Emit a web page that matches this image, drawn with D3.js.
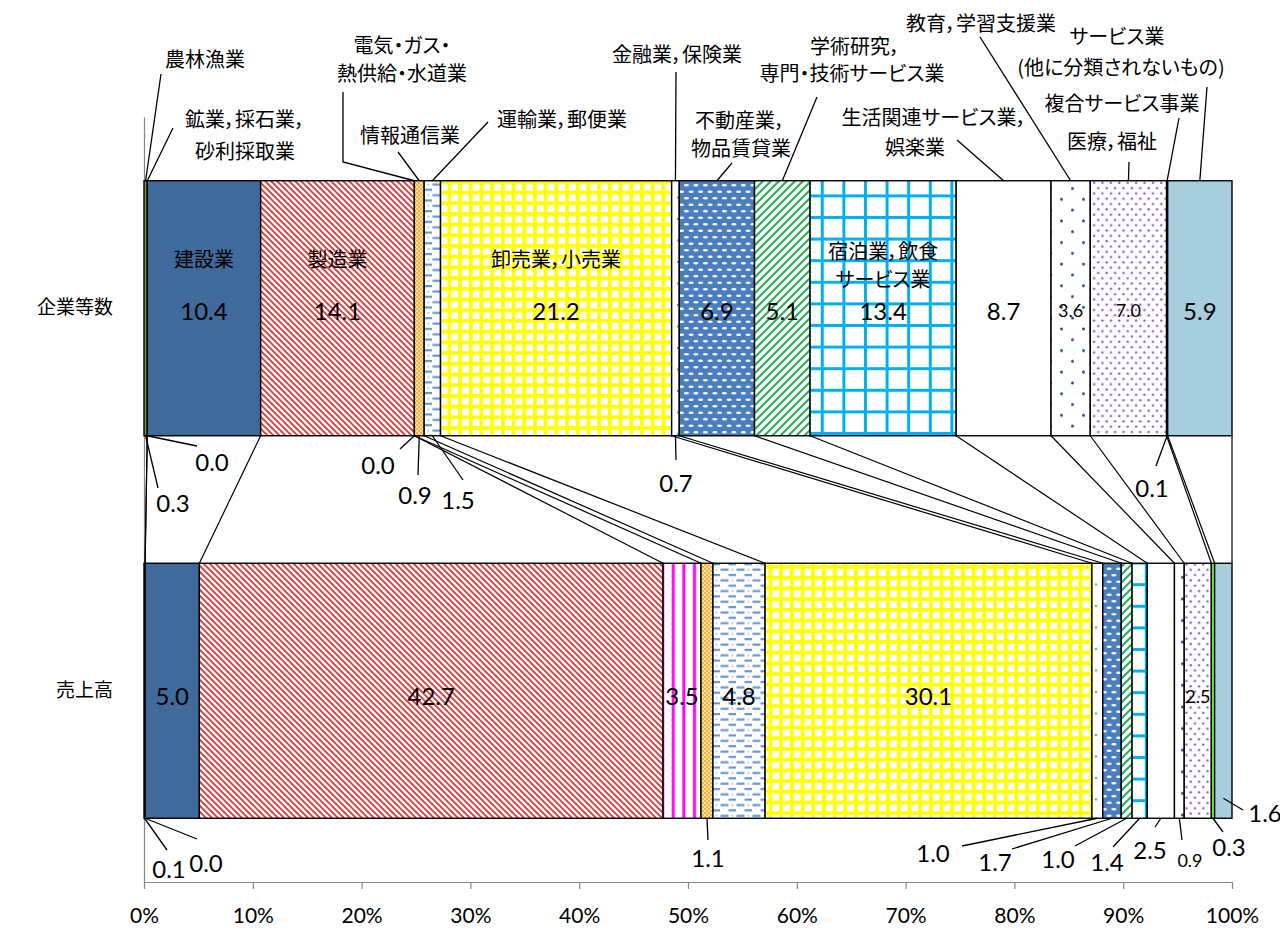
<!DOCTYPE html>
<html>
<head>
<meta charset="utf-8">
<script src="https://cdn.jsdelivr.net/npm/d3@7"></script>
<style>
  body { margin: 0; background: #fff; }
  svg { display: block; }
  .jp { font-family: "Noto Sans CJK JP", sans-serif; font-size: 20px; font-feature-settings: "palt" 1; fill: #000; }
  .num { font-family: Lato, "Noto Sans", sans-serif; font-size: 24px; fill: #000; }
  .num.small { font-size: 18px; }
</style>
</head>
<body>
<svg id="chart" width="1280" height="930"></svg>
<script>
// categories (bars) and industries (stacked segments)
var categories = ['企業等数', '売上高'];

var industryLines = [
  ['農林漁業'],
  ['鉱業，採石業，', '砂利採取業'],
  ['建設業'],
  ['製造業'],
  ['電気・ガス・', '熱供給・水道業'],
  ['情報通信業'],
  ['運輸業，郵便業'],
  ['卸売業，小売業'],
  ['金融業，保険業'],
  ['不動産業，', '物品賃貸業'],
  ['学術研究，', '専門・技術サービス業'],
  ['宿泊業，飲食', 'サービス業'],
  ['生活関連サービス業，', '娯楽業'],
  ['教育，学習支援業'],
  ['医療，福祉'],
  ['複合サービス事業'],
  ['サービス業', '(他に分類されないもの)']
];

// shares in %
var firmShares = [0.3, 0.0, 10.4, 14.1, 0.0, 0.9, 1.5, 21.2, 0.7, 6.9, 5.1, 13.4, 8.7, 3.6, 7.0, 0.1, 5.9];
var salesShares = [0.1, 0.0, 5.0, 42.7, 3.5, 1.1, 4.8, 30.1, 1.0, 1.7, 1.0, 1.4, 2.5, 0.9, 2.5, 0.3, 1.6];

var tickValues = [0, 0.1, 0.2, 0.3, 0.4, 0.5, 0.6, 0.7, 0.8, 0.9, 1];

var svg = d3.select('#chart');
var defs = svg.append('defs');

// helper for fill patterns
function pattern(id, w, h, draw) {
  var p = defs.append('pattern')
    .attr('id', id)
    .attr('patternUnits', 'userSpaceOnUse')
    .attr('width', w)
    .attr('height', h);
  draw(p, w, h);
}

pattern('p-mfg', 6, 6, function (p) {
  p.append('rect').attr('width', 6).attr('height', 6).attr('fill', '#fff');
  p.append('path')
    .attr('d', 'M0,0L6,6M-1.5,4.5L1.5,7.5M4.5,-1.5L7.5,1.5')
    .attr('stroke', '#DC3A3A').attr('stroke-width', 1.9);
});
pattern('p-elec', 10.6, 10, function (p) {
  p.append('rect').attr('width', 10.6).attr('height', 10).attr('fill', '#fff');
  p.append('rect').attr('x', 4).attr('width', 3).attr('height', 10).attr('fill', '#FF00FF');
});
pattern('p-info', 4, 4, function (p) {
  p.append('rect').attr('width', 4).attr('height', 4).attr('fill', '#FCE0A6');
  p.append('rect').attr('width', 2).attr('height', 2).attr('fill', '#F7B33E');
  p.append('rect').attr('x', 2).attr('y', 2).attr('width', 2).attr('height', 2).attr('fill', '#F7B33E');
});
pattern('p-trans', 16, 10.7, function (p) {
  p.append('rect').attr('width', 16).attr('height', 10.7).attr('fill', '#fff');
  p.append('rect').attr('x', 0.5).attr('y', 1.5).attr('width', 8).attr('height', 2.2).attr('fill', '#6A96CF');
  p.append('rect').attr('x', 8.5).attr('y', 6.8).attr('width', 8).attr('height', 2.2).attr('fill', '#6A96CF');
  p.append('circle').attr('cx', 12.5).attr('cy', 2.6).attr('r', 0.9).attr('fill', '#9DB9E0');
});
pattern('p-retail', 10.7, 10.7, function (p) {
  p.append('rect').attr('width', 10.7).attr('height', 10.7).attr('fill', '#FFFF00');
  p.append('rect').attr('x', 1.8).attr('y', 1.8).attr('width', 7).attr('height', 7).attr('fill', '#fff');
});
pattern('p-fin', 11, 21.5, function (p) {
  p.append('rect').attr('width', 11).attr('height', 21.5).attr('fill', '#fff');
  p.append('circle').attr('cx', 7).attr('cy', 4).attr('r', 1.1).attr('fill', '#37A84A');
});
pattern('p-estate', 9.5, 13, function (p) {
  p.append('rect').attr('width', 9.5).attr('height', 13).attr('fill', '#4A7EBF');
  p.append('ellipse').attr('cx', 2.4).attr('cy', 3.2).attr('rx', 2.5).attr('ry', 1.3).attr('fill', '#fff');
  p.append('ellipse').attr('cx', 7.15).attr('cy', 9.7).attr('rx', 2.5).attr('ry', 1.3).attr('fill', '#fff');
  p.append('ellipse').attr('cx', 11.9).attr('cy', 3.2).attr('rx', 2.5).attr('ry', 1.3).attr('fill', '#fff');
});
pattern('p-sci', 8, 8, function (p) {
  p.append('rect').attr('width', 8).attr('height', 8).attr('fill', '#fff');
  p.append('path')
    .attr('d', 'M0,8L8,0M-2,2L2,-2M6,10L10,6')
    .attr('stroke', '#2EAE5C').attr('stroke-width', 2.2);
});
pattern('p-hotel', 21.6, 21.6, function (p) {
  p.append('rect').attr('width', 21.6).attr('height', 21.6).attr('fill', '#fff');
  p.append('rect').attr('x', 0).attr('width', 3).attr('height', 21.6).attr('fill', '#00B0F0');
  p.append('rect').attr('y', 0).attr('width', 21.6).attr('height', 3).attr('fill', '#00B0F0');
});
pattern('p-edu', 22, 21.6, function (p) {
  p.append('rect').attr('width', 22).attr('height', 21.6).attr('fill', '#fff');
  p.append('circle').attr('cx', 5.5).attr('cy', 5).attr('r', 1.5).attr('fill', '#2A4A84');
  p.append('circle').attr('cx', 16.5).attr('cy', 15.8).attr('r', 1.5).attr('fill', '#2A4A84');
});
pattern('p-med', 8.4, 10.6, function (p) {
  p.append('rect').attr('width', 8.4).attr('height', 10.6).attr('fill', '#fff');
  p.append('circle').attr('cx', 2.1).attr('cy', 2.6).attr('r', 1.2).attr('fill', '#9457C9');
  p.append('circle').attr('cx', 6.3).attr('cy', 7.9).attr('r', 1.2).attr('fill', '#9457C9');
});

var fills = [
  '#77933C', '#595959', '#3F6A9B', 'url(#p-mfg)', 'url(#p-elec)', 'url(#p-info)',
  'url(#p-trans)', 'url(#p-retail)', 'url(#p-fin)', 'url(#p-estate)', 'url(#p-sci)',
  'url(#p-hotel)', '#FFFFFF', 'url(#p-edu)', 'url(#p-med)', '#66FF33', '#A6CEDC'
];

// scales
var x = d3.scaleLinear().domain([0, 1]).range([144, 1232]);
var y = d3.scaleBand()
  .domain(categories)
  .range([117, 882])
  .paddingInner(1 / 3)
  .paddingOuter(1 / 6);
var bw = y.bandwidth();

// 100% stack
var shareSets = [firmShares, salesShares];
var rows = categories.map(function (c, j) {
  var r = { category: c };
  industryLines.forEach(function (n, i) { r[i] = shareSets[j][i]; });
  return r;
});
var series = d3.stack()
  .keys(d3.range(industryLines.length))
  .offset(d3.stackOffsetExpand)(rows);

var fmt = d3.format('.1f');

// axes
var xAxis = svg.append('g')
  .attr('transform', 'translate(0,' + 882 + ')')
  .call(d3.axisBottom(x).tickValues(tickValues).tickFormat(d3.format('.0%')).tickSize(7).tickSizeOuter(0));
xAxis.selectAll('path,line').attr('stroke', '#868686').attr('stroke-width', 1.2);
xAxis.selectAll('text')
  .attr('y', 34).attr('dy', '0.35em')
  .attr('fill', '#000')
  .style('font-family', 'Lato, sans-serif')
  .style('font-size', '21px');

var yAxis = svg.append('g')
  .attr('transform', 'translate(144,0)')
  .call(d3.axisLeft(y).tickSize(0).tickPadding(31));
yAxis.select('.domain').attr('stroke', '#868686').attr('stroke-width', 1.2);
yAxis.selectAll('text')
  .attr('fill', '#000')
  .style('font-family', '"Noto Sans CJK JP", sans-serif')
  .style('font-size', '19px');

// series lines between the two bars
svg.append('g')
  .selectAll('line')
  .data(series)
  .join('line')
  .attr('x1', function (s) { return x(s[0][1]); })
  .attr('y1', y(categories[0]) + bw)
  .attr('x2', function (s) { return x(s[1][1]); })
  .attr('y2', y(categories[1]))
  .attr('stroke', '#000')
  .attr('stroke-width', 1.2);

// segments
svg.append('g')
  .selectAll('g')
  .data(series)
  .join('g')
  .attr('fill', function (s, i) { return fills[i]; })
  .selectAll('rect')
  .data(function (s) { return s; })
  .join('rect')
  .attr('x', function (d) { return x(d[0]); })
  .attr('y', function (d) { return y(d.data.category); })
  .attr('width', function (d) { return Math.max(0, x(d[1]) - x(d[0])); })
  .attr('height', bw)
  .attr('stroke', '#000')
  .attr('stroke-width', 1.4);

function segMid(j, i) {
  var d = series[i][j];
  return x((d[0] + d[1]) / 2);
}
function center(j) { return y(categories[j]) + bw / 2; }

// names written inside segments (dy from bar centre)
var insideNames = [
  { j: 0, i: 2, dy: [-50] },
  { j: 0, i: 3, dy: [-50] },
  { j: 0, i: 7, dy: [-50] },
  { j: 0, i: 11, dy: [-58, -30] }
];
insideNames.forEach(function (c) {
  industryLines[c.i].forEach(function (t, k) {
    svg.append('text').attr('class', 'jp')
      .attr('x', segMid(c.j, c.i))
      .attr('y', center(c.j) + c.dy[k])
      .attr('text-anchor', 'middle')
      .attr('dominant-baseline', 'central')
      .text(t);
  });
});

// values written inside segments
var insideValues = [
  { j: 0, idx: [2, 3, 7, 9, 10, 11, 12, 13, 14, 16], small: [13, 14], dy: 2 },
  { j: 1, idx: [2, 3, 4, 6, 7, 14], small: [14], dy: 5 }
];
insideValues.forEach(function (g) {
  g.idx.forEach(function (i) {
    svg.append('text')
      .attr('class', g.small.indexOf(i) >= 0 ? 'num small' : 'num')
      .attr('x', segMid(g.j, i))
      .attr('y', center(g.j) + g.dy)
      .attr('text-anchor', 'middle')
      .attr('dominant-baseline', 'central')
      .text(fmt(shareSets[g.j][i]));
  });
});

// callouts with leader lines: edge = side of the bar the leader starts from
var nameCallouts = [
  { i: 0, pts: [[161, 74]], tx: [205], ty: [58] },
  { i: 1, pts: [[173, 128]], tx: [245, 245], ty: [118, 150] },
  { i: 4, pts: [[343, 162], [343, 92]], tx: [402, 402], ty: [44, 72] },
  { i: 5, pts: [[398, 152]], tx: [410], ty: [134] },
  { i: 6, pts: [[488, 122]], tx: [562], ty: [118] },
  { i: 8, pts: [[676, 72]], tx: [677], ty: [53] },
  { i: 9, pts: [[732, 163]], tx: [740, 741], ty: [119, 147] },
  { i: 10, pts: [[817, 97]], tx: [855, 852], ty: [45, 72] },
  { i: 12, pts: [[957, 140]], tx: [934, 915], ty: [116, 146] },
  { i: 13, pts: [[980, 37]], tx: [981], ty: [22] },
  { i: 14, pts: [[1129, 162]], tx: [1112], ty: [140] },
  { i: 15, pts: [[1179, 118]], tx: [1122], ty: [102] },
  { i: 16, pts: [[1207, 87]], tx: [1117, 1121], ty: [35, 66] }
];
nameCallouts.forEach(function (c) {
  var a = [segMid(0, c.i), y(categories[0])];
  svg.append('path')
    .attr('d', d3.line()([a].concat(c.pts)))
    .attr('fill', 'none').attr('stroke', '#000').attr('stroke-width', 1.3);
  industryLines[c.i].forEach(function (t, k) {
    svg.append('text').attr('class', 'jp')
      .attr('x', c.tx[k]).attr('y', c.ty[k])
      .attr('text-anchor', 'middle')
      .attr('dominant-baseline', 'central')
      .text(t);
  });
});

var valueCallouts = [
  { j: 0, i: 0, pts: [[158, 488]], tx: 173, ty: 502 },
  { j: 0, i: 1, pts: [[197, 446]], tx: 212, ty: 461 },
  { j: 0, i: 4, pts: [[400, 449]], tx: 378, ty: 464 },
  { j: 0, i: 5, pts: [[418, 475]], tx: 415, ty: 494 },
  { j: 0, i: 6, pts: [[463, 480]], tx: 458, ty: 499 },
  { j: 0, i: 8, pts: [[676, 460]], tx: 676, ty: 482 },
  { j: 0, i: 15, pts: [[1156, 466]], tx: 1152, ty: 487 },
  { j: 1, i: 0, pts: [[167, 850]], tx: 169, ty: 868 },
  { j: 1, i: 1, pts: [[197, 839]], tx: 206, ty: 862 },
  { j: 1, i: 5, pts: [[708, 840]], tx: 708, ty: 857 },
  { j: 1, i: 8, pts: [[962, 846]], tx: 933, ty: 852 },
  { j: 1, i: 9, pts: [[1012, 849]], tx: 995, ty: 861 },
  { j: 1, i: 10, pts: [[1075, 846]], tx: 1058, ty: 858 },
  { j: 1, i: 11, pts: [[1113, 847]], tx: 1107, ty: 861 },
  { j: 1, i: 12, pts: [[1155, 827]], tx: 1150, ty: 849 },
  { j: 1, i: 13, pts: [[1182, 840]], tx: 1190, ty: 860, small: true },
  { j: 1, i: 15, pts: [[1223, 832]], tx: 1229, ty: 846 },
  { j: 1, i: 16, pts: [[1243, 810]], tx: 1265, ty: 812, ady: -20 }
];
valueCallouts.forEach(function (c) {
  var a = [segMid(c.j, c.i), y(categories[c.j]) + bw + (c.ady || 0)];
  svg.append('path')
    .attr('d', d3.line()([a].concat(c.pts)))
    .attr('fill', 'none').attr('stroke', '#000').attr('stroke-width', 1.3);
  svg.append('text')
    .attr('class', c.small ? 'num small' : 'num')
    .attr('x', c.tx).attr('y', c.ty)
    .attr('text-anchor', 'middle')
    .attr('dominant-baseline', 'central')
    .text(fmt(shareSets[c.j][c.i]));
});
</script>
</body>
</html>
